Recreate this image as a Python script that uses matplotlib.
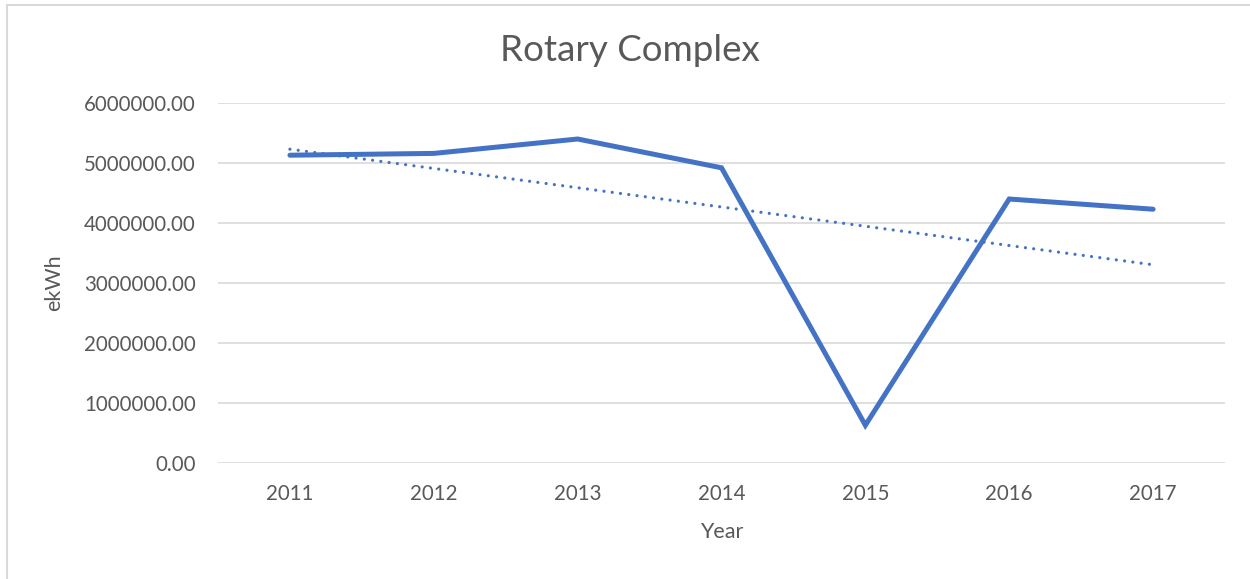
import matplotlib.pyplot as plt
import numpy as np
from matplotlib.lines import Line2D

years = ["2011", "2012", "2013", "2014", "2015", "2016", "2017"]
ekwh = [5130000, 5160000, 5400000, 4920000, 630000, 4400000, 4230000]

blue = "#4472C4"
grey = "#595959"
grid = "#D9D9D9"

plt.rcParams['font.family'] = ['Lato', 'DejaVu Sans']

fig = plt.figure(figsize=(12.5, 5.79), dpi=100)
ax = fig.add_axes([0.1744, 0.2003, 0.8056, 0.6218])

x = np.arange(len(years))
ax.plot(x, ekwh, color=blue, lw=3.6, solid_capstyle="round", solid_joinstyle="miter", zorder=3)

# linear trendline
k, b = np.polyfit(x, ekwh, 1)
ax.plot(x, k * x + b, color=blue, lw=2.3, linestyle=(0, (0.01, 2.6)),
        dash_capstyle="round", zorder=3)

ax.set_xlim(-0.5, len(years) - 0.5)
ax.set_ylim(0, 6000000)
ax.set_yticks(np.arange(0, 6000001, 1000000))
ax.set_yticklabels([f"{v:.2f}" for v in np.arange(0, 6000001, 1000000)])
ax.set_xticks(x)
ax.set_xticklabels(years)
ax.grid(axis="y", color=grid, lw=1.2)
ax.set_axisbelow(True)
for s in ax.spines.values():
    s.set_visible(False)
ax.tick_params(length=0, labelsize=14.8, colors=grey, pad=16)
ax.tick_params(axis="x", pad=15)

ax.set_xlabel("Year", fontsize=15.5, color=grey, labelpad=13)
ax.set_ylabel("ekWh", fontsize=15.5, color=grey, labelpad=14)
fig.text(0.504, 0.912, "Rotary Complex", ha="center", va="center", fontsize=26.5, color=grey)

# chart frame (left and top edges only)
fig.add_artist(Line2D([7 / 1250, 7 / 1250], [0, 1 - 5 / 579], transform=fig.transFigure, color=grid, lw=1.5))
fig.add_artist(Line2D([7 / 1250, 1], [1 - 5 / 579, 1 - 5 / 579], transform=fig.transFigure, color=grid, lw=1.5))

fig.savefig("out.png", dpi=100)
